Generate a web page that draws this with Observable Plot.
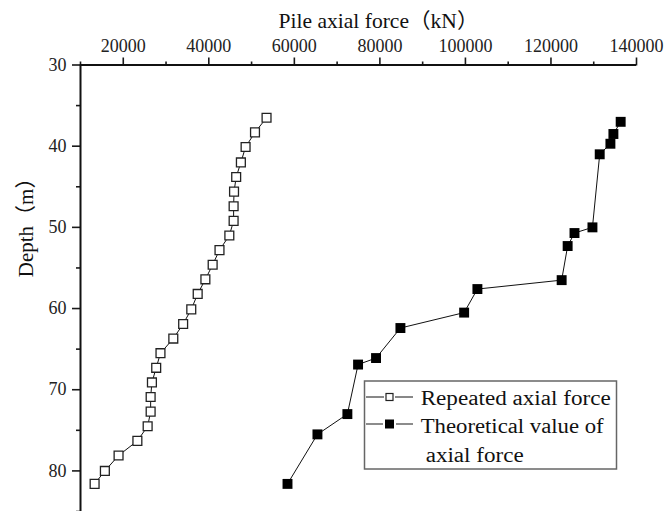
<!DOCTYPE html>
<html><head><meta charset="utf-8">
<script src="https://cdn.jsdelivr.net/npm/d3@7"></script>
<script src="https://cdn.jsdelivr.net/npm/@observablehq/plot@0.6"></script>
<style>body{margin:0;background:#fff} #chart{width:665px;height:511px}</style>
</head><body><div id="chart"></div>
<script>
const repeatedDepth = [36.5, 38.3, 40.1, 42.0, 43.8, 45.6, 47.4, 49.2, 51.0, 52.8, 54.6, 56.4, 58.2, 60.1, 61.9, 63.7, 65.5, 67.3, 69.1, 70.9, 72.7, 74.5, 76.3, 78.1, 80.0, 81.6];
const repeatedForce = [53500, 50800, 48600, 47500, 46400, 45900, 45800, 45800, 44800, 42500, 40900, 39200, 37400, 35900, 34000, 31700, 28700, 27700, 26700, 26400, 26400, 25700, 23300, 18900, 15700, 13300];
const theoryDepth = [37.0, 38.5, 39.7, 41.0, 50.0, 50.7, 52.3, 56.5, 57.6, 60.5, 62.4, 66.1, 66.9, 73.0, 75.5, 81.6];
const theoryForce = [136300, 134600, 133900, 131400, 129700, 125500, 123900, 122500, 102800, 99700, 84800, 79100, 74900, 72400, 65400, 58400];
const xMajor = [20000, 40000, 60000, 80000, 100000, 120000, 140000];
const xMinor = [10000, 30000, 50000, 70000, 90000, 110000, 130000];
const yMajor = [30, 40, 50, 60, 70, 80];
const yMinor = [35, 45, 55, 65, 75, 85];
const titleText = "Pile axial force（kN）";
const yLabelText = "Depth（m）";
const legendLabels = ["Repeated axial force", "Theoretical value of", "axial force"];

const FONT = "'Liberation Serif', 'Times New Roman', 'Noto Sans CJK SC', serif";
const repeated = repeatedDepth.map((d, i) => ({depth: d, force: repeatedForce[i]}));
const theory = theoryDepth.map((d, i) => ({depth: d, force: theoryForce[i]}));

const plot = Plot.plot({
  width: 665, height: 511,
  marginTop: 64.5, marginLeft: 80, marginRight: 29, marginBottom: 0,
  style: {fontFamily: FONT, fontSize: "18px", color: "#1a1a1a", background: "white", overflow: "visible"},
  x: {domain: [10000, 140000]},
  y: {domain: [30, 85], reverse: true},
  marks: [
    Plot.axisX({anchor: "top", ticks: xMajor, tickSize: 8, tickPadding: 5, tickFormat: d => String(d), label: null, strokeWidth: 1.6, fontSize: 18, fontFamily: FONT, fill: "#222"}),
    Plot.axisX({anchor: "top", ticks: xMinor, tickSize: 4, tickFormat: () => "", label: null, strokeWidth: 1.6}),
    Plot.axisY({anchor: "left", ticks: yMajor, tickSize: 8, tickPadding: 6, tickFormat: d => String(d), label: null, strokeWidth: 1.6, fontSize: 18, fontFamily: FONT, fill: "#222"}),
    Plot.axisY({anchor: "left", ticks: yMinor, tickSize: 4, tickFormat: () => "", label: null, strokeWidth: 1.6}),
    Plot.ruleY([30], {stroke: "#111", strokeWidth: 2}),
    Plot.ruleX([10000], {stroke: "#111", strokeWidth: 2}),
    Plot.line(repeated, {x: "force", y: "depth", stroke: "#111", strokeWidth: 1}),
    Plot.dot(repeated, {x: "force", y: "depth", symbol: "square", r: 5, fill: "white", stroke: "#222", strokeWidth: 1.3}),
    Plot.line(theory, {x: "force", y: "depth", stroke: "#111", strokeWidth: 1}),
    Plot.dot(theory, {x: "force", y: "depth", symbol: "square", r: 5.6, fill: "black", stroke: "none"}),
    Plot.text([titleText], {frameAnchor: "top-left", textAnchor: "start", lineAnchor: "bottom", dx: 198, dy: -37, fontSize: 21, fill: "#111", fontFamily: FONT, className: "ttl"}),
    Plot.text([yLabelText], {frameAnchor: "left", rotate: -90, dx: -54, dy: -11, fontSize: 21, fill: "#111", fontFamily: FONT})
  ]
});
document.getElementById("chart").appendChild(plot);

const svg = d3.select(plot);
svg.selectAll(".ttl text").attr("textLength", 200).attr("lengthAdjust", "spacingAndGlyphs");

// legend
const lg = svg.append("g").attr("font-family", FONT).attr("font-size", 20).attr("fill", "#111").attr("text-anchor", "start");
lg.append("rect").attr("x", 364.5).attr("y", 381).attr("width", 252).attr("height", 88)
  .attr("fill", "white").attr("stroke", "#666").attr("stroke-width", 1.5);
[[366, 384], [395, 413]].forEach(([a, b]) => {
  lg.append("line").attr("x1", a).attr("x2", b).attr("y1", 397).attr("y2", 397).attr("stroke", "#111").attr("stroke-width", 1);
});
lg.append("rect").attr("x", 386).attr("y", 393.5).attr("width", 7).attr("height", 7).attr("fill", "white").attr("stroke", "#222").attr("stroke-width", 1.2);
[[366, 383], [396, 413]].forEach(([a, b]) => {
  lg.append("line").attr("x1", a).attr("x2", b).attr("y1", 424).attr("y2", 424).attr("stroke", "#666").attr("stroke-width", 1.5);
});
lg.append("rect").attr("x", 385).attr("y", 419.5).attr("width", 9).attr("height", 9).attr("fill", "black");
const rows = [[420.7, 405, 190], [420.7, 433, 183], [425.7, 461.5, 98]];
legendLabels.forEach((t, i) => {
  lg.append("text").attr("x", rows[i][0]).attr("y", rows[i][1]).attr("text-anchor", "start").attr("textLength", rows[i][2])
    .attr("lengthAdjust", "spacingAndGlyphs").text(t);
});
</script>
</body></html>
